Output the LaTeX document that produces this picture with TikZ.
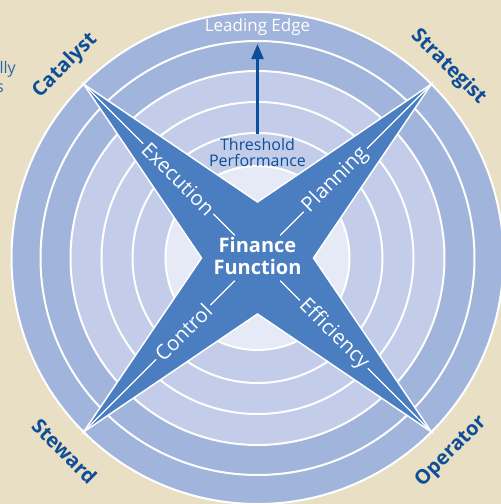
\documentclass[tikz,border=0pt]{standalone}
\usepackage{fontspec}
\setmainfont{Open Sans}
\usetikzlibrary{arrows.meta}

\definecolor{beige}{HTML}{E9DFC4}
\definecolor{ringdark}{HTML}{A1B4DC}
\definecolor{ringlight}{HTML}{C3CDE9}
\definecolor{ringcore}{HTML}{E6EAF6}
\definecolor{starblue}{HTML}{4B7EC1}
\definecolor{inkblue}{HTML}{0D4E98}
\definecolor{textblue}{HTML}{2E64AE}

\begin{document}
\begin{tikzpicture}[x=1pt, y=1pt,
    ring/.style={draw=white, line width=2pt},
    role/.style={text=inkblue, font=\bfseries\fontsize{20}{20}\selectfont},
    arm/.style={fill=starblue, text=white, inner xsep=3pt, inner ysep=0pt, font=\fontsize{20.5}{20.5}\selectfont},
    leader/.style={draw=white, line width=1.2pt}]
	\useasboundingbox[fill=beige] (-257.5,-246) rectangle (243.5,258);

	% rings, outside in
	\foreach \r/\c in {246/ringdark, 217/ringdark, 187/ringlight, 156/ringlight, 125/ringlight, 92/ringcore}
		\draw[ring, fill=\c] (0,0) circle[radius=\r];

	\coordinate (ne) at (45:246);
	\coordinate (nw) at (135:246);
	\coordinate (sw) at (225:246);
	\coordinate (se) at (315:246);

	\draw[draw=white, line width=1.5pt, fill=starblue] (ne) -- (90:56) -- (nw) -- (180:56) -- (sw) -- (270:56) -- (se) -- (0:56) -- cycle;

	\coordinate (c1) at (45:32);
	\coordinate (c2) at (135:32);
	\coordinate (c3) at (225:32);
	\coordinate (c4) at (315:32);
	\draw[leader] (c1) -- (ne) (c2) -- (nw) (c3) -- (sw) (c4) -- (se);

	\node[arm, rotate=-45] (exec) at (135:112) {Execution};
	\node[arm, rotate=45] (plan) at (45:110) {Planning};
	\node[arm, rotate=45] (ctrl) at (225:105) {Control};
	\node[arm, rotate=-45] (eff) at (315:108) {Efficiency};

	\node[text=white, align=center, font=\bfseries\fontsize{20}{22}\selectfont] (core) at (0,2) {Finance\\Function};

	\node[text=white, font=\fontsize{17}{17}\selectfont] (edge) at (0,231) {Leading Edge};
	\node[text=inkblue, align=center, font=\fontsize{16}{16}\selectfont] (threshold) at (0,106) {Threshold\\Performance};
	\draw[-{Triangle[length=15pt, width=12pt]}, inkblue, line width=2.5pt, shorten >=5pt] (threshold.north) -- (edge.south);

	\node[role, rotate=45] (catalyst) at (135:272) {Catalyst};
	\node[role, rotate=-45] (strategist) at (45:270) {Strategist};
	\node[role, rotate=-45] (steward) at (225:273) {Steward};
	\node[role, rotate=45] (operator) at (315:274) {Operator};

	\node[anchor=east, inner sep=0pt, text=textblue, font=\fontsize{16}{16}\selectfont] (cutA) at (-241.5,189) {lly};
	\node[anchor=east, inner sep=0pt, text=textblue, font=\fontsize{16}{16}\selectfont] (cutB) at (-253.5,170) {s};
\end{tikzpicture}
\end{document}
